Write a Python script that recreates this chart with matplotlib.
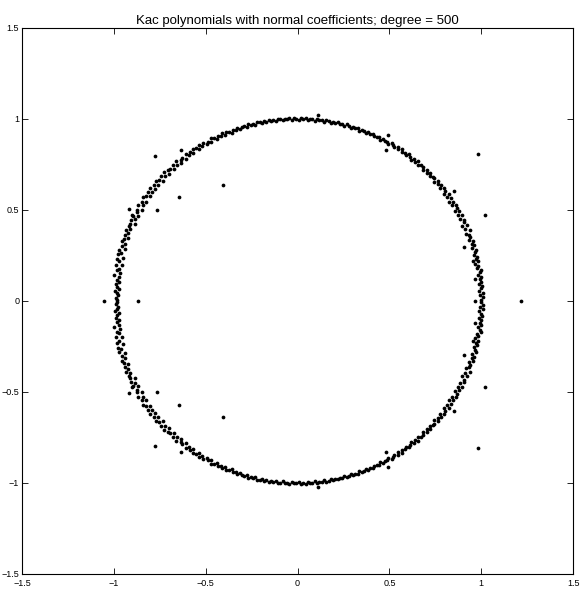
import numpy as np
import matplotlib
matplotlib.use('Agg')
import matplotlib.pyplot as plt

plt.rcParams['font.family'] = ['Liberation Sans', 'DejaVu Sans']

# roots on the ring, upper half (angle in degrees, radius offset in 1/1000)
ring_deg = [0.4, 1.1, 1.9, 2.5, 3.3, 4.0, 4.6, 5.5, 6.1, 6.9, 7.6, 8.2, 9.0, 9.8, 10.4, 11.2, 11.9, 12.5,
            13.4, 14.0, 14.8, 15.5, 16.1, 17.0, 17.7, 18.3, 19.1, 19.9, 20.5, 21.3, 22.0, 22.7, 23.4, 24.2,
            24.8, 25.6, 26.3, 27.0, 27.8, 28.4, 29.2, 29.9, 30.6, 31.4, 32.1, 32.7, 33.5, 34.2, 35.0, 35.6,
            36.4, 37.1, 37.8, 38.6, 39.2, 40.0, 40.7, 41.4, 42.2, 42.8, 43.6, 44.3, 45.0, 45.8, 46.4, 47.2,
            47.9, 48.6, 49.4, 50.0, 50.8, 51.5, 52.2, 53.0, 53.6, 54.4, 55.1, 55.8, 56.6, 57.2, 58.0, 58.7,
            59.4, 60.2, 60.8, 61.6, 62.3, 63.0, 63.8, 64.4, 65.2, 65.9, 66.6, 67.4, 68.0, 68.8, 69.5, 70.2,
            71.0, 71.6, 72.4, 73.1, 73.8, 74.6, 75.2, 76.0, 76.7, 77.4, 78.2, 78.8, 79.6, 80.3, 81.0, 81.8,
            82.4, 83.2, 83.9, 84.6, 85.4, 86.0, 86.8, 87.5, 88.2, 89.0, 89.6, 90.4, 91.1, 91.8, 92.6, 93.2,
            94.0, 94.7, 95.4, 96.2, 96.8, 97.6, 98.3, 99.0, 99.8, 100.4, 101.2, 101.9, 102.6, 103.4, 104.0,
            104.8, 105.5, 106.2, 107.0, 107.6, 108.4, 109.1, 109.8, 110.6, 111.2, 112.0, 112.7, 113.4, 114.2,
            114.8, 115.6, 116.3, 117.0, 117.8, 118.4, 119.2, 119.9, 120.6, 121.4, 122.0, 122.8, 123.5, 124.2,
            125.0, 125.6, 126.4, 127.1, 127.8, 128.6, 129.2, 130.0, 130.7, 131.4, 132.2, 132.8, 133.6, 134.3,
            135.0, 135.8, 136.4, 137.2, 137.9, 138.6, 139.4, 140.0, 140.8, 141.5, 142.2, 143.0, 143.6, 144.4,
            145.1, 145.8, 146.6, 147.2, 148.0, 148.7, 149.4, 150.2, 150.8, 151.6, 152.3, 153.0, 153.8, 154.4,
            155.2, 155.9, 156.6, 157.4, 158.0, 158.8, 159.5, 160.2, 161.0, 161.6, 162.4, 163.1, 163.8, 164.6,
            165.2, 166.0, 166.7, 167.4, 168.2, 168.8, 169.6, 170.3, 171.0, 171.8, 172.4, 173.2, 173.9, 174.6,
            175.4, 176.0, 176.8, 177.5, 178.2, 179.0, 179.6]
ring_dr = [-2, 9, -5, 11, -8, 3, 10, -6, 6, -2,
           10, -8, 4, 12, -6, 2, -10, 7, -4, 9,
           -7, 3, 10, -8, 6, -2, 8, -10, 4, 2,
           -11, 15, -7, 12, -14, 5, 10, -9, 14, -4,
           8, -12, 6, 11, -8, 3, -10, 9, -5, 12,
           -7, 4, 10, -9, 6, -3, 8, -11, 5, 2,
           -6, 9, -4, 7, -8, 3, 6, -5, 10, -2,
           5, -7, 3, 8, -6, 2, -4, 7, -3, 6,
           -5, 4, 8, -6, 3, -2, 6, -7, 4, 1,
           -4, 6, -3, 5, -6, 2, 4, -5, 7, -1,
           3, -5, 2, 6, -4, 1, -3, 5, -2, 4,
           -4, 3, 6, -5, 2, -1, 5, -6, 3, 1,
           -3, 5, -2, 4, -5, 2, 3, -4, 6, -1,
           4, -5, 3, 7, -4, 2, -3, 6, -2, 5,
           -5, 4, 8, -6, 3, -2, 7, -7, 4, 2,
           -6, 8, -4, 6, -8, 3, 5, -6, 9, -3,
           6, -8, 4, 10, -7, 3, -6, 9, -4, 8,
           -8, 6, 11, -9, 5, -3, 10, -11, 6, 3,
           -9, 12, -6, 10, -12, 5, 9, -10, 14, -5,
           10, -13, 7, 15, -11, 5, -9, 14, -7, 12,
           -12, 9, 17, -14, 8, -5, 15, -17, 10, 4,
           -14, 10, -5, 9, -16, 4, 8, -9, 12, -4,
           9, -16, 6, 13, -9, 4, -18, 12, -6, 10,
           -20, 8, -4, -22, 6, -14, -2, -24, 8, -18,
           -12, -20, -8, -16, -25, -6, -14, -22, -10, -18,
           -15, -24, -12, -20, -18, -14, -22, -16, -20, -17]

# roots off the ring, upper half (come in conjugate pairs)
off_x = [-0.775, -0.637, -0.407, -0.646, -0.766, -0.915, -0.902, 0.11, 0.49, 0.483, 0.981, 0.853, 1.018,
         0.907, 0.954, 0.964]
off_y = [0.797, 0.832, 0.639, 0.569, 0.498, 0.503, 0.47, 1.02, 0.913, 0.828, 0.806, 0.604, 0.472,
         0.298, 0.219, 0.123]

# real roots
real_x = [1.214, -1.052, -0.871, 0.964]

n = min(len(ring_deg), len(ring_dr))
th = np.deg2rad(np.array(ring_deg[:n]))
r = 1 + np.array(ring_dr[:n]) / 1000.0
zr = np.concatenate([r * np.cos(th), np.array(off_x)])
zi = np.concatenate([r * np.sin(th), np.array(off_y)])

xs = np.concatenate([zr, zr, real_x])
ys = np.concatenate([zi, -zi, np.zeros(len(real_x))])

fig = plt.figure(figsize=(5.83, 5.89), dpi=100)
ax = fig.add_axes([0.0377, 0.0255, 0.9453, 0.927])
ax.plot(xs, ys, 'o', color='black', ms=2.7, mew=0)
ax.set_xlim(-1.5, 1.5)
ax.set_ylim(-1.5, 1.5)
ticks = [-1.5, -1, -0.5, 0, 0.5, 1, 1.5]
labels = ['\u22121.5', '\u22121', '\u22120.5', '0', '0.5', '1', '1.5']
ax.set_xticks(ticks)
ax.set_yticks(ticks)
ax.set_xticklabels(labels)
ax.set_yticklabels(labels)
ax.tick_params(direction='in', length=4, width=0.6, labelsize=6.5, top=True, right=True, pad=2)
ax.tick_params(axis='x', pad=3.5)
for s in ax.spines.values():
    s.set_linewidth(0.8)
ax.set_title('Kac polynomials with normal coefficients; degree = 500', fontsize=9.5, pad=3)

fig.savefig('out.png', dpi=100)
